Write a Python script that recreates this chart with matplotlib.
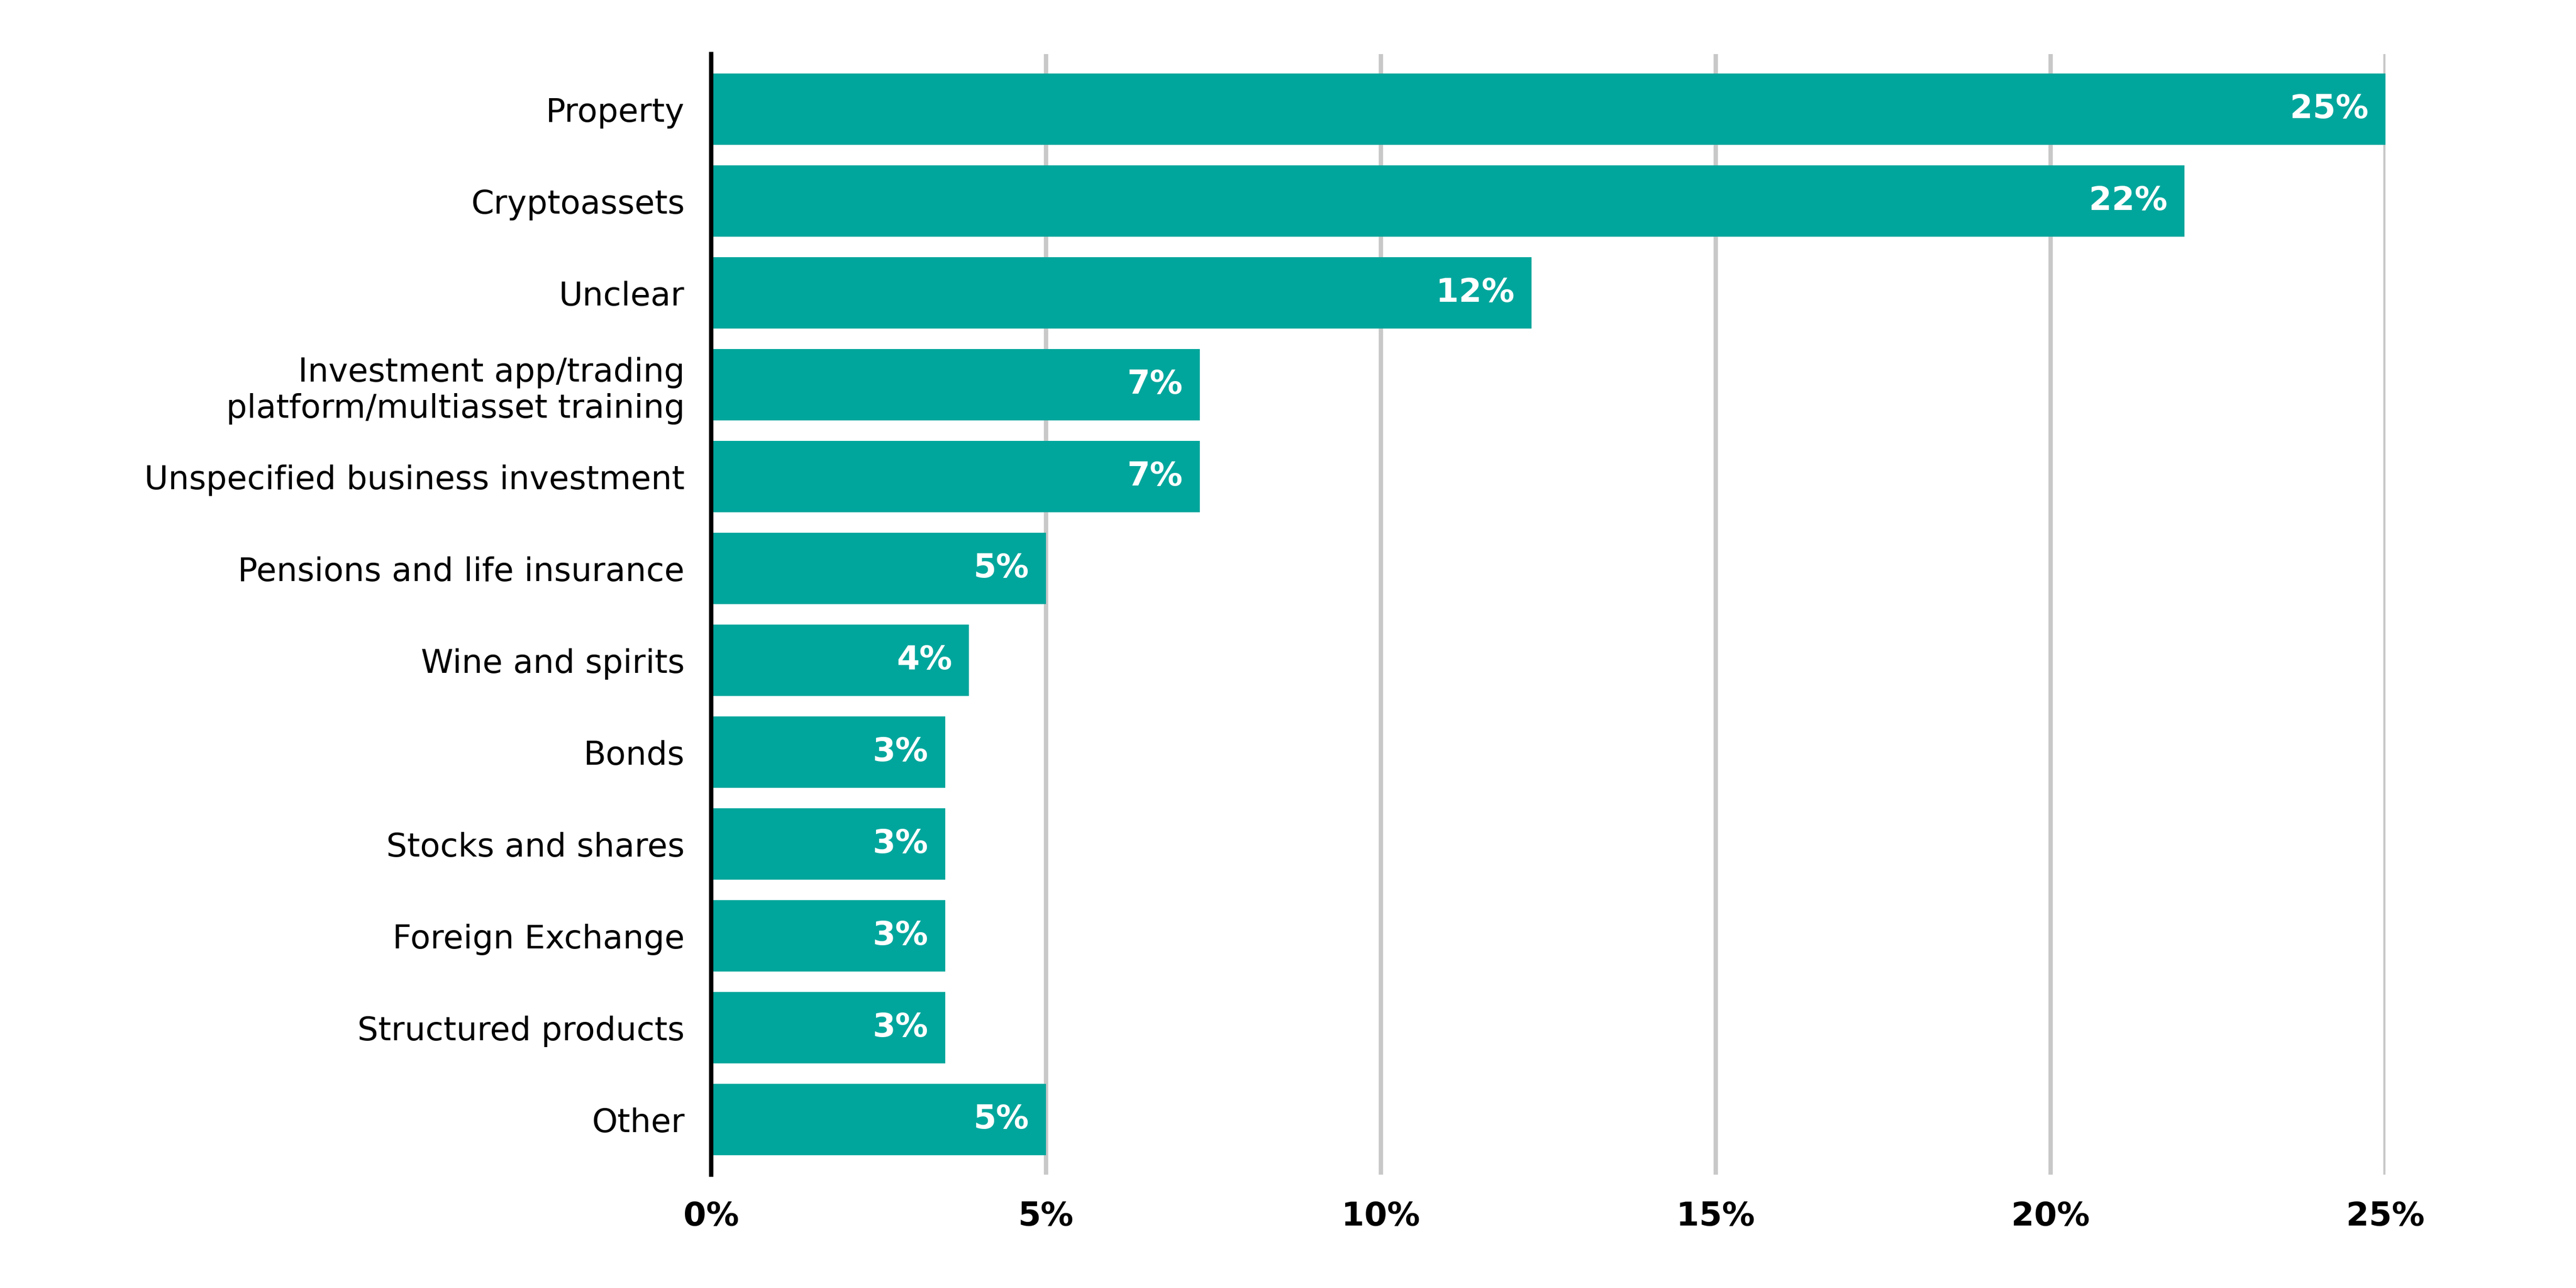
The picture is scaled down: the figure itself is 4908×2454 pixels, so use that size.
import matplotlib.pyplot as plt
from matplotlib import font_manager

categories = ['Property', 'Cryptoassets', 'Unclear',
              'Investment app/trading\nplatform/multiasset training',
              'Unspecified business investment', 'Pensions and life insurance',
              'Wine and spirits', 'Bonds', 'Stocks and shares',
              'Foreign Exchange', 'Structured products', 'Other']
values = [25.0, 22.0, 12.25, 7.3, 7.3, 5.0, 3.85, 3.5, 3.5, 3.5, 3.5, 5.0]
labels = ['25%', '22%', '12%', '7%', '7%', '5%', '4%', '3%', '3%', '3%', '3%', '5%']
ticks = [0, 5, 10, 15, 20, 25]

names = {f.name for f in font_manager.fontManager.ttflist}
font = 'Liberation Sans Narrow' if 'Liberation Sans Narrow' in names else 'DejaVu Sans'
plt.rcParams['font.family'] = font

fig = plt.figure(figsize=(16.36, 8.18), dpi=300)
ax = fig.add_axes([0.276, 0.088, 0.65, 0.87])

y = list(range(len(categories)))
ax.barh(y, values, color='#00A69C', height=0.78, zorder=3)
for yi, v, lab in zip(y, values, labels):
    ax.text(v - 0.25, yi, lab, ha='right', va='center', color='white',
            fontsize=15, fontweight='bold', zorder=4)

ax.set_ylim(len(categories) - 0.4, -0.6)
ax.set_xlim(0, 25)
ax.set_yticks(y)
ax.set_yticklabels(categories, fontsize=15)
ax.set_xticks(ticks)
ax.set_xticklabels([f'{t}%' for t in ticks], fontsize=15, fontweight='bold')
ax.tick_params(length=0, pad=12)
ax.xaxis.grid(True, color='#c8c8c8', linewidth=2, zorder=0)
for s in ['top', 'right', 'bottom']:
    ax.spines[s].set_visible(False)
ax.spines['left'].set_linewidth(2)
ax.spines['left'].set_zorder(5)

fig.savefig('out.png', dpi=300)
